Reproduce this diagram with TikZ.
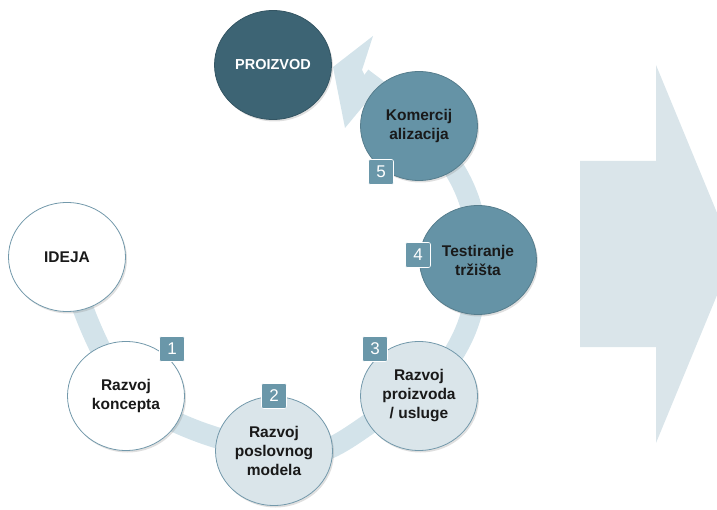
\documentclass[tikz,border=0pt]{standalone}
\usepackage{fontspec}
\setmainfont{Liberation Sans}
\usepackage{tikz}
\definecolor{bandBlue}{HTML}{D3E3EA}
\definecolor{paleBlue}{HTML}{DAE5EA}
\definecolor{lineBlue}{HTML}{7399AB}
\definecolor{midTeal}{HTML}{6593A6}
\definecolor{darkTeal}{HTML}{3D6474}
\definecolor{boxTeal}{HTML}{6A97A9}
\usetikzlibrary{shapes.geometric}
\usetikzlibrary{shadows}
\usetikzlibrary{backgrounds}

\tikzset{
  stage/.style={ellipse, draw=lineBlue, line width=0.8pt, minimum width=117pt, minimum height=109pt,
                inner sep=0pt, align=center, text=black!90,
                font=\fontsize{15.5}{19}\selectfont\bfseries,
                drop shadow={shadow xshift=1.5pt, shadow yshift=-2pt, opacity=0.25}},
  num/.style={rounded corners=2pt, fill=boxTeal, draw=white, line width=0.6pt, text=white,
              minimum width=25pt, minimum height=25pt, inner sep=0pt, font=\fontsize{17}{17}\selectfont},
  band/.style={draw=bandBlue, line width=21pt}
}

\begin{document}
\begin{tikzpicture}[x=1pt,y=1pt]
        \useasboundingbox (0,0) rectangle (717,509);
        \clip (0,0) rectangle (717,509);

        % big arrow on the right
        \fill[paleBlue] (580,162) -- (656,162) -- (656,66) -- (734,255) -- (656,444) -- (656,348) -- (580,348) -- cycle;

        % stages
        \node[stage, fill=white]                        (ideja)      at ( 67,252) {IDEJA};
        \node[stage, fill=white]                        (koncept)    at (126,113) {Razvoj\\koncepta};
        \node[stage, fill=paleBlue]                     (model)      at (274, 58) {Razvoj\\poslovnog\\modela};
        \node[stage, fill=paleBlue]                     (usluga)     at (419,113) {Razvoj\\proizvoda\\/ usluge};
        \node[stage, fill=midTeal, draw=midTeal!85!black] (trziste)  at (478,249) {Testiranje\\tržišta};
        \node[stage, fill=midTeal, draw=midTeal!85!black] (komerc)   at (419,383) {Komercij\\alizacija};
        \node[stage, fill=darkTeal, draw=darkTeal!85!black, text=white,
              font=\fontsize{14.5}{18}\selectfont\bfseries] (proizvod) at (273,444) {PROIZVOD};

        % step numbers
        \node[num] (n1) at ([shift={( 46, 47)}]koncept) {1};
        \node[num] (n2) at ([shift={(  0, 55)}]model)   {2};
        \node[num] (n3) at ([shift={(-44, 47)}]usluga)  {3};
        \node[num] (n4) at ([shift={(-60,  5)}]trziste) {4};
        \node[num] (n5) at ([shift={(-38,-46)}]komerc)  {5};

        % curved band with its head
        \coordinate (shaftend) at (362,431);
        \coordinate (headtip)  at (333,442);
        \begin{pgfonlayer}{background}
            \draw[band] (ideja.center) to[out=-75, in=120] (koncept.center)
                                       to[out=-30, in=170] (model.center)
                                       to[out=-20, in=200] (usluga.center)
                                       to[out= 45, in=-90] (trziste.center)
                                       to[out= 90, in=-45] (komerc.center)
                                       to[out=135, in=-37] (shaftend);
            \fill[bandBlue] (headtip) -- (373,473) -- (362,439) -- (374,416) -- (345,381) -- cycle;
        \end{pgfonlayer}
    \end{tikzpicture}
\end{document}
